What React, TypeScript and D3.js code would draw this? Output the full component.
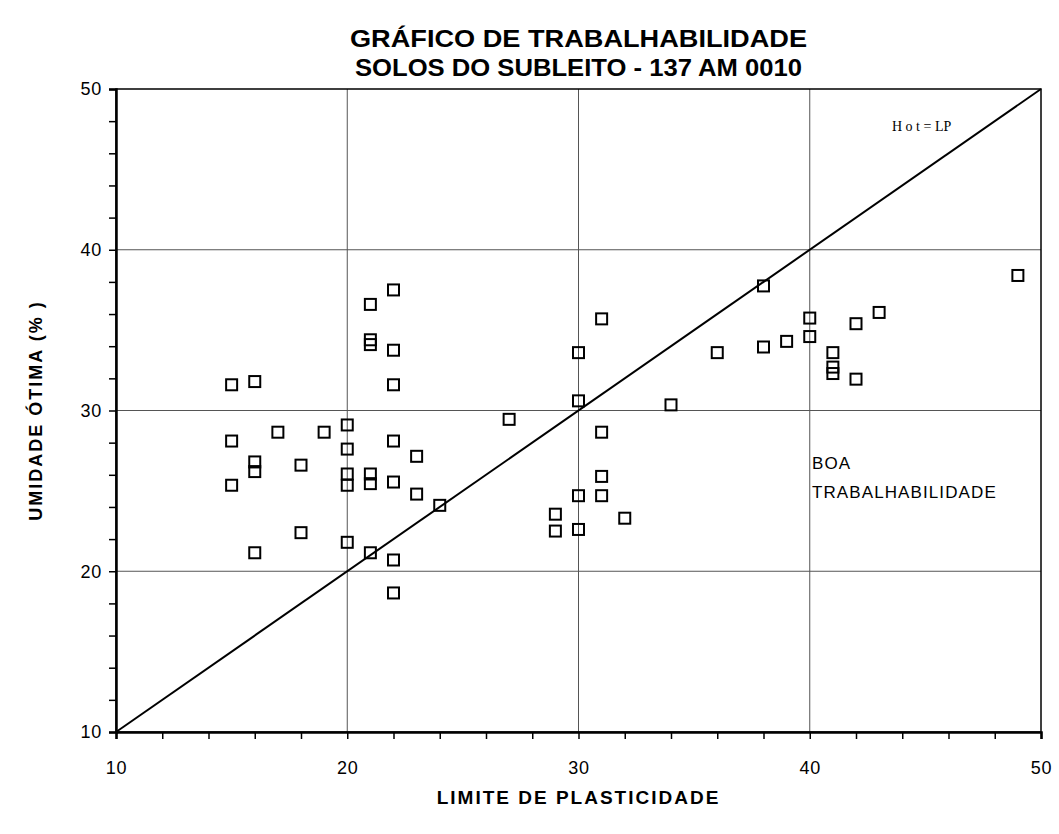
import { useEffect, useRef } from 'react';
import * as d3 from 'd3';

// Limite de plasticidade (x) and umidade ótima (y)
const LP = [
  15, 15, 15,
  16, 16, 16, 16,
  17,
  18, 18,
  19,
  20, 20, 20, 20, 20,
  21, 21, 21, 21, 21, 21,
  22, 22, 22, 22, 22, 22, 22,
  23, 23,
  24,
  27,
  29, 29,
  30, 30, 30, 30,
  31, 31, 31, 31,
  32, 34, 36,
  38, 38,
  39,
  40, 40,
  41, 41, 41,
  42, 42,
  43,
  49,
];

const HOT = [
  31.6, 28.1, 25.35,
  31.8, 26.8, 26.2, 21.15,
  28.65,
  26.6, 22.4,
  28.65,
  29.1, 27.6, 26.05, 25.35, 21.8,
  36.6, 34.4, 34.1, 26.05, 25.45, 21.15,
  37.5, 33.75, 31.6, 28.1, 25.55, 20.7, 18.65,
  27.15, 24.8,
  24.1,
  29.45,
  23.55, 22.5,
  33.6, 30.6, 24.7, 22.6,
  35.7, 28.65, 25.9, 24.7,
  23.3, 30.35, 33.6,
  37.75, 33.95,
  34.3,
  35.75, 34.6,
  33.6, 32.7, 32.3,
  35.4, 31.95,
  36.1,
  38.4,
];

const X_TICKS = [10, 20, 30, 40, 50];
const Y_TICKS = [10, 20, 30, 40, 50];
const GRID = [20, 30, 40];

const TITLE = ['GRÁFICO DE TRABALHABILIDADE', 'SOLOS DO SUBLEITO - 137 AM 0010'];
const TITLE_WIDTH = [457, 447];

const W = 1059;
const H = 834;
const M = { left: 116, right: 1041, top: 89, bottom: 732 };
const SANS = '"Liberation Sans", Arial, sans-serif';

export default function App() {
  const ref = useRef<SVGSVGElement>(null);

  useEffect(() => {
    document.body.style.margin = '0';
    const svg = d3.select(ref.current);
    svg.selectAll('*').remove();

    const x = d3.scaleLinear().domain([10, 50]).range([M.left, M.right]);
    const y = d3.scaleLinear().domain([10, 50]).range([M.bottom, M.top]);

    svg.append('rect').attr('width', W).attr('height', H).attr('fill', '#fff');

    // grid
    const g = svg.append('g');
    g.selectAll('line.gx')
      .data(GRID)
      .join('line')
      .attr('x1', d => x(d)).attr('x2', d => x(d))
      .attr('y1', M.top).attr('y2', M.bottom)
      .attr('stroke', '#555').attr('stroke-width', 1);
    g.selectAll('line.gy')
      .data(GRID)
      .join('line')
      .attr('class', 'gy')
      .attr('y1', d => y(d)).attr('y2', d => y(d))
      .attr('x1', M.left).attr('x2', M.right)
      .attr('stroke', '#555').attr('stroke-width', 1);

    // frame
    svg.append('rect')
      .attr('x', M.left).attr('y', M.top)
      .attr('width', M.right - M.left).attr('height', M.bottom - M.top)
      .attr('fill', 'none').attr('stroke', '#000').attr('stroke-width', 1.5);

    // axes
    const xAxis = d3.axisBottom(x).tickValues(d3.range(10, 51, 2)).tickSize(7)
      .tickFormat(d => (X_TICKS.includes(+d) ? String(d) : ''));
    const gx = svg.append('g').attr('transform', `translate(0,${M.bottom})`).call(xAxis);
    gx.select('.domain').attr('stroke-width', 2.5);
    gx.selectAll('.tick line').attr('stroke-width', 1.5);
    gx.selectAll('text')
      .attr('font-family', SANS).attr('font-size', 18).attr('letter-spacing', 0.8)
      .attr('fill', '#000').attr('y', 0).attr('dy', 42);

    const yAxis = d3.axisLeft(y).tickValues(d3.range(10, 51, 2)).tickSize(7)
      .tickFormat(d => (Y_TICKS.includes(+d) ? String(d) : ''));
    const gy = svg.append('g').attr('transform', `translate(${M.left},0)`).call(yAxis);
    gy.select('.domain').attr('stroke-width', 2.5);
    gy.selectAll('.tick line').attr('stroke-width', 1.5);
    gy.selectAll('text')
      .attr('font-family', SANS).attr('font-size', 18).attr('letter-spacing', 0.8)
      .attr('fill', '#000').attr('x', -14);

    // Hot = LP line
    svg.append('line')
      .attr('x1', x(10)).attr('y1', y(10))
      .attr('x2', x(50)).attr('y2', y(50))
      .attr('stroke', '#000').attr('stroke-width', 2);

    // points
    const pts = LP.map((v, i) => ({ lp: v, hot: HOT[i] }));
    const s = 11;
    svg.append('g').selectAll('rect')
      .data(pts)
      .join('rect')
      .attr('x', d => x(d.lp) - s / 2)
      .attr('y', d => y(d.hot) - s / 2)
      .attr('width', s).attr('height', s)
      .attr('fill', 'none').attr('stroke', '#000').attr('stroke-width', 2);

    // annotations
    svg.append('text')
      .attr('x', 892).attr('y', 131)
      .attr('font-family', '"Liberation Serif", "Times New Roman", serif')
      .attr('font-size', 14)
      .text('H o t  =  LP');

    svg.append('text')
      .attr('x', 812).attr('y', 469)
      .attr('font-family', SANS).attr('font-size', 17).attr('letter-spacing', 1.1)
      .text('BOA');
    svg.append('text')
      .attr('x', 812).attr('y', 498)
      .attr('font-family', SANS).attr('font-size', 17).attr('letter-spacing', 1.1)
      .text('TRABALHABILIDADE');

    // titles
    svg.selectAll('text.title')
      .data(TITLE)
      .join('text')
      .attr('class', 'title')
      .attr('x', (M.left + M.right) / 2)
      .attr('y', (d, i) => 47 + i * 29)
      .attr('text-anchor', 'middle')
      .attr('font-family', SANS).attr('font-size', 24).attr('font-weight', 700)
      .attr('textLength', (d, i) => TITLE_WIDTH[i])
      .attr('lengthAdjust', 'spacingAndGlyphs')
      .text(d => d);

    svg.append('text')
      .attr('x', (M.left + M.right) / 2).attr('y', 804)
      .attr('text-anchor', 'middle')
      .attr('font-family', SANS).attr('font-size', 19).attr('font-weight', 700)
      .attr('letter-spacing', 2)
      .text('LIMITE DE PLASTICIDADE');

    svg.append('text')
      .attr('transform', `translate(42,${(M.top + M.bottom) / 2}) rotate(-90)`)
      .attr('text-anchor', 'middle')
      .attr('font-family', SANS).attr('font-size', 18).attr('font-weight', 700)
      .attr('letter-spacing', 2)
      .text('UMIDADE ÓTIMA (% )');
  }, []);

  return <svg ref={ref} width={W} height={H} style={{ display: 'block' }} />;
}
